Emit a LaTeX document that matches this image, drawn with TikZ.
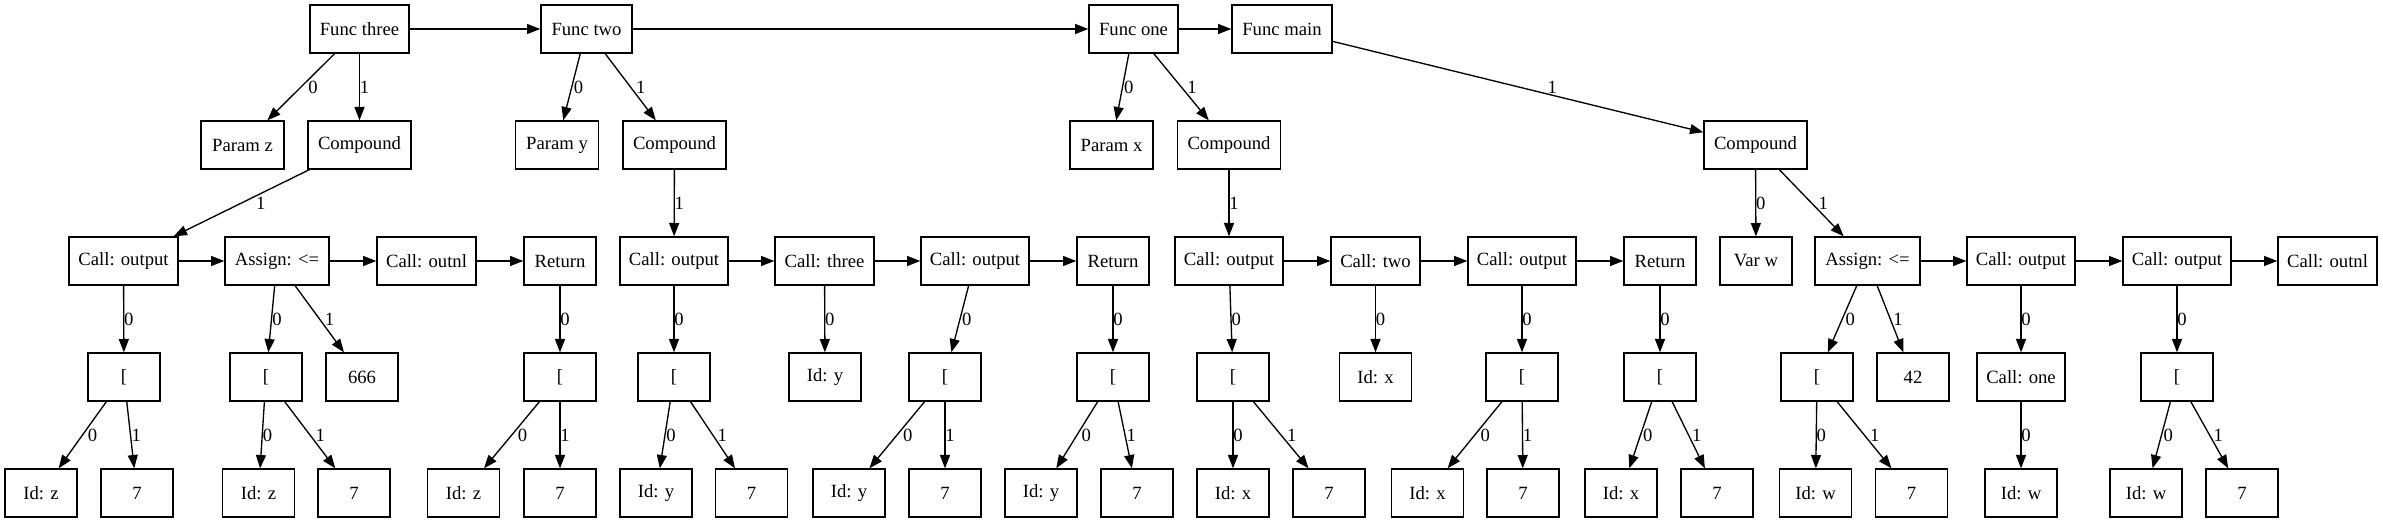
\documentclass[tikz,border=0pt]{standalone}
\usepackage{fontspec}
\setmainfont{Liberation Serif}
\usetikzlibrary{arrows.meta,calc}
\newcommand\ledge[3]{%
  \draw[edge] (#1) -- (#2);
  \path let \p1=(#1.center), \p2=(#2.center) in
    node[lab] (l-#1-#2) at ({(\x1+\x2)/2+abs(\x2-\x1)*0.0603},{(\y1+\y2)/2}) {#3};}
\begin{document}
\begin{tikzpicture}[x=0.75pt,y=-0.75pt,
  box/.style={draw, line width=1pt, minimum height=36pt, minimum width=54pt, inner sep=0pt,
              font=\fontsize{14}{16}\selectfont},
  wd/.style={minimum width=#1*0.75pt},
  edge/.style={line width=1pt, -{Triangle[length=10pt,width=7.5pt]}},
  lab/.style={anchor=west, inner sep=0pt, font=\fontsize{14}{16}\selectfont}]
\useasboundingbox (0,0) rectangle (2383,523);
% row 0
\node[box,wd=99]  (f3) at (359.5,29) {Func three};
\node[box,wd=91]  (f2) at (586.5,29) {Func two};
\node[box,wd=89]  (f1) at (1133.5,29) {Func one};
\node[box,wd=100] (fm) at (1282,29) {Func main};
% row 1
\node[box,wd=83]  (pz) at (242.5,145) {Param z};
\node[box,wd=103] (k3) at (359.5,145) {Compound};
\node[box,wd=83]  (py) at (557,145) {Param y};
\node[box,wd=103] (k2) at (674.5,145) {Compound};
\node[box,wd=83]  (px) at (1111.5,145) {Param x};
\node[box,wd=103] (k1) at (1229,145) {Compound};
\node[box,wd=103] (km) at (1755.5,145) {Compound};
% row 2
\node[box,wd=109] (a1) at (123.5,261) {Call: output};
\node[box,wd=104] (a2) at (277,261) {Assign: <=};
\node[box,wd=99]  (a3) at (426.5,261) {Call: outnl};
\node[box]        (a4) at (560,261) {Return};
\node[box,wd=108] (b1) at (674,261) {Call: output};
\node[box,wd=99]  (b2) at (824.5,261) {Call: three};
\node[box,wd=108] (b3) at (975,261) {Call: output};
\node[box]        (b4) at (1113,261) {Return};
\node[box,wd=108] (c1) at (1229,261) {Call: output};
\node[box,wd=89]  (c2) at (1375.5,261) {Call: two};
\node[box,wd=108] (c3) at (1522,261) {Call: output};
\node[box]        (c4) at (1660,261) {Return};
\node[box]        (vw) at (1756,261) {Var w};
\node[box,wd=105] (d1) at (1867.5,261) {Assign: <=};
\node[box,wd=108] (d2) at (2021,261) {Call: output};
\node[box,wd=108] (d3) at (2177,261) {Call: output};
\node[box,wd=99]  (d4) at (2327.5,261) {Call: outnl};
% row 3
\node[box] (a1x) at (124,377) {[};
\node[box] (a2x) at (266,377) {[};
\node[box] (a2y) at (362,377) {666};
\node[box] (a4x) at (560,377) {[};
\node[box] (b1x) at (674,377) {[};
\node[box] (b2x) at (825,377) {Id: y};
\node[box] (b3x) at (945,377) {[};
\node[box] (b4x) at (1113,377) {[};
\node[box] (c1x) at (1233,377) {[};
\node[box] (c2x) at (1375.5,377) {Id: x};
\node[box] (c3x) at (1522,377) {[};
\node[box] (c4x) at (1660,377) {[};
\node[box] (d1x) at (1817,377) {[};
\node[box] (d1y) at (1913,377) {42};
\node[box,wd=88] (d2x) at (2021,377) {Call: one};
\node[box] (d3x) at (2177,377) {[};
% row 4
\node[box] (a1x0) at (41,493) {Id: z};   \node[box] (a1x1) at (137,493) {7};
\node[box] (a2x0) at (258.5,493) {Id: z}; \node[box] (a2x1) at (354,493) {7};
\node[box] (a4x0) at (463.5,493) {Id: z}; \node[box] (a4x1) at (560,493) {7};
\node[box] (b1x0) at (656,493) {Id: y};   \node[box] (b1x1) at (751.5,493) {7};
\node[box] (b3x0) at (849,493) {Id: y};   \node[box] (b3x1) at (945,493) {7};
\node[box] (b4x0) at (1041,493) {Id: y};  \node[box] (b4x1) at (1137,493) {7};
\node[box] (c1x0) at (1233,493) {Id: x};  \node[box] (c1x1) at (1329,493) {7};
\node[box] (c3x0) at (1427.5,493) {Id: x};\node[box] (c3x1) at (1523,493) {7};
\node[box] (c4x0) at (1621,493) {Id: x};  \node[box] (c4x1) at (1717,493) {7};
\node[box] (d1x0) at (1815.5,493) {Id: w};\node[box] (d1x1) at (1911.5,493) {7};
\node[box] (d2x0) at (2021,493) {Id: w};
\node[box] (d3x0) at (2146,493) {Id: w};  \node[box] (d3x1) at (2242,493) {7};
% sibling chains
\draw[edge] (f3) -- (f2);
\draw[edge] (f2) -- (f1);
\draw[edge] (f1) -- (fm);
\draw[edge] (a1) -- (a2);
\draw[edge] (a2) -- (a3);
\draw[edge] (a3) -- (a4);
\draw[edge] (b1) -- (b2);
\draw[edge] (b2) -- (b3);
\draw[edge] (b3) -- (b4);
\draw[edge] (c1) -- (c2);
\draw[edge] (c2) -- (c3);
\draw[edge] (c3) -- (c4);
\draw[edge] (d1) -- (d2);
\draw[edge] (d2) -- (d3);
\draw[edge] (d3) -- (d4);
% labelled edges
\ledge{f3}{pz}{0} \ledge{f3}{k3}{1}
\ledge{f2}{py}{0} \ledge{f2}{k2}{1}
\ledge{f1}{px}{0} \ledge{f1}{k1}{1}
\ledge{fm}{km}{1}
\ledge{k3}{a1}{1} \ledge{k2}{b1}{1} \ledge{k1}{c1}{1}
\ledge{km}{vw}{0} \ledge{km}{d1}{1}
\ledge{a1}{a1x}{0} \ledge{a2}{a2x}{0} \ledge{a2}{a2y}{1} \ledge{a4}{a4x}{0}
\ledge{b1}{b1x}{0} \ledge{b2}{b2x}{0} \ledge{b3}{b3x}{0} \ledge{b4}{b4x}{0}
\ledge{c1}{c1x}{0} \ledge{c2}{c2x}{0} \ledge{c3}{c3x}{0} \ledge{c4}{c4x}{0}
\ledge{d1}{d1x}{0} \ledge{d1}{d1y}{1} \ledge{d2}{d2x}{0} \ledge{d3}{d3x}{0}
\ledge{a1x}{a1x0}{0} \ledge{a1x}{a1x1}{1}
\ledge{a2x}{a2x0}{0} \ledge{a2x}{a2x1}{1}
\ledge{a4x}{a4x0}{0} \ledge{a4x}{a4x1}{1}
\ledge{b1x}{b1x0}{0} \ledge{b1x}{b1x1}{1}
\ledge{b3x}{b3x0}{0} \ledge{b3x}{b3x1}{1}
\ledge{b4x}{b4x0}{0} \ledge{b4x}{b4x1}{1}
\ledge{c1x}{c1x0}{0} \ledge{c1x}{c1x1}{1}
\ledge{c3x}{c3x0}{0} \ledge{c3x}{c3x1}{1}
\ledge{c4x}{c4x0}{0} \ledge{c4x}{c4x1}{1}
\ledge{d1x}{d1x0}{0} \ledge{d1x}{d1x1}{1}
\ledge{d2x}{d2x0}{0}
\ledge{d3x}{d3x0}{0} \ledge{d3x}{d3x1}{1}
\end{tikzpicture}
\end{document}
